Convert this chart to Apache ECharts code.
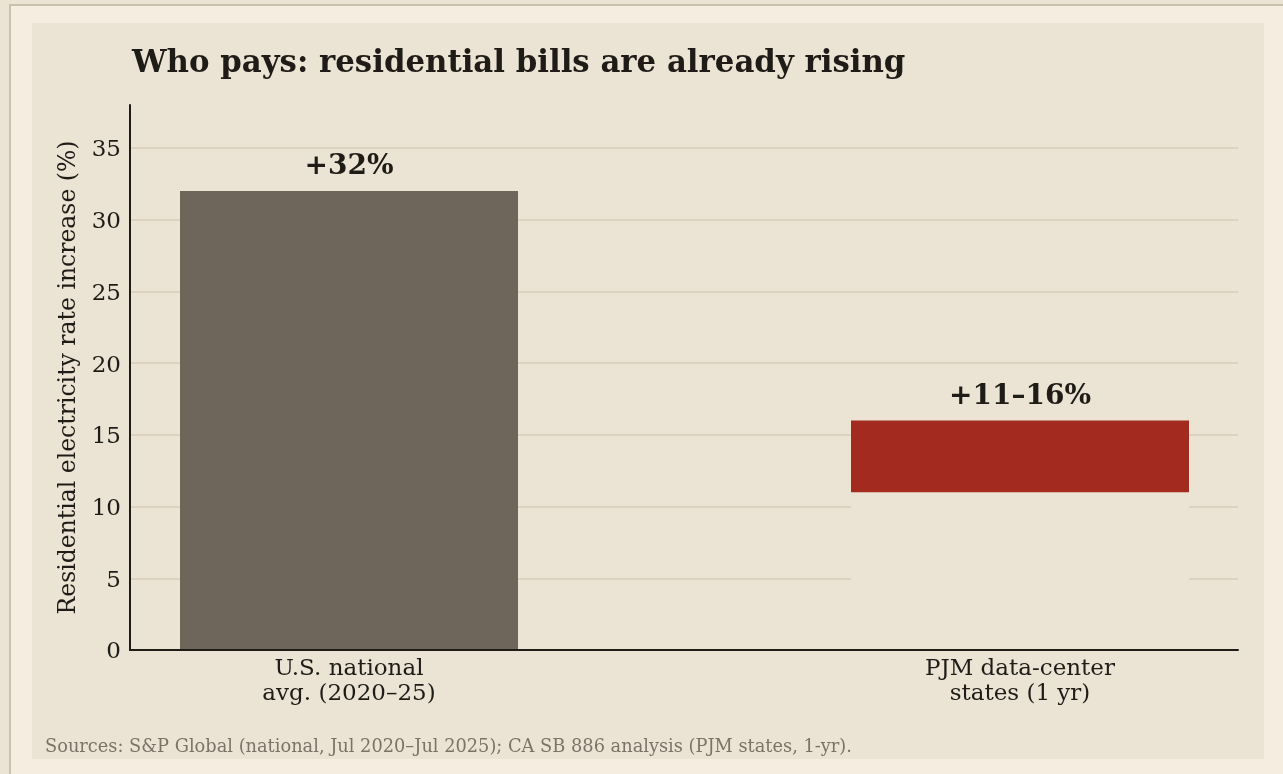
<!DOCTYPE html>
<html>
<head>
<meta charset="utf-8">
<script src="https://cdn.jsdelivr.net/npm/echarts@6/dist/echarts.min.js"></script>
<style>
  html, body { margin: 0; padding: 0; width: 1283px; height: 774px; overflow: hidden; background: #ebe4d4; }
  #frame { position: absolute; left: 9px; top: 4px; width: 1400px; height: 900px; background: #f5eee0; border: 2px solid #cbc0ab; }
  #chart { position: absolute; left: 32px; top: 23px; width: 1232px; height: 736px; background: #ebe4d4; }
</style>
</head>
<body>
<div id="frame"></div>
<div id="chart"></div>
<script>
// Categories and values
const categories = ['U.S. national\navg. (2020–25)', 'PJM data-center\nstates (1 yr)'];
const nationalIncrease = [32];          // % rise, Jul 2020–Jul 2025
const pjmRange = [11, 16];              // % rise range, one year
const barLabels = ['+32%', '+11–16%'];
const yTicks = [0, 5, 10, 15, 20, 25, 30, 35];

const PANEL = '#ebe4d4';
const INK = '#1f1c18';
const SERIF = '"DejaVu Serif", serif';
const BAR_W = 338;

const chart = echarts.init(document.getElementById('chart'), null, { renderer: 'canvas' });

chart.setOption({
  backgroundColor: PANEL,
  animation: false,
  title: {
    text: 'Who pays: residential bills are already rising',
    left: 95,
    top: 20,
    textStyle: { fontFamily: SERIF, fontWeight: 'bold', fontSize: 30.8, color: INK }
  },
  grid: { left: 98, right: 26, top: 82, bottom: 109, containLabel: false },
  xAxis: {
    type: 'value',
    z: 6,
    // category slots sit at 0 and 1, padded on both sides
    min: -0.32638,
    max: 1.32489,
    axisLine: { show: true, onZero: false, lineStyle: { color: INK, width: 2 } },
    axisTick: { show: false },
    splitLine: { show: false },
    axisLabel: {
      customValues: [0, 1],
      formatter: v => categories[Math.round(v)],
      fontFamily: SERIF, fontSize: 23, color: INK, lineHeight: 25, margin: 7
    }
  },
  yAxis: {
    type: 'value',
    min: 0,
    max: 38,
    interval: 5,
    name: 'Residential electricity rate increase (%)',
    nameLocation: 'middle',
    nameRotate: 90,
    nameGap: 49,
    nameTextStyle: { fontFamily: SERIF, fontSize: 23.5, color: INK },
    axisLine: { show: true, onZero: false, lineStyle: { color: INK, width: 2 } },
    axisTick: { show: false },
    axisLabel: {
      showMaxLabel: false,
      formatter: v => (yTicks.indexOf(v) >= 0 ? '{t|' + v + '}' : ''),
      margin: 9,
      rich: {
        t: { fontFamily: SERIF, fontSize: 23, color: INK, padding: [5, 0, 0, 0] }
      }
    },
    splitLine: { show: true, showMaxLine: false, lineStyle: { color: '#d6cdbb', width: 1.5 } }
  },
  series: [
    {
      name: 'national',
      type: 'bar',
      barWidth: BAR_W,
      barGap: '-100%',
      z: 3,
      data: [[0, nationalIncrease[0]]],
      itemStyle: { color: '#6e665a' },
      label: {
        show: true, position: 'top', distance: 10,
        formatter: () => barLabels[0],
        fontFamily: SERIF, fontWeight: 'bold', fontSize: 28, color: INK
      }
    },
    {
      // full PJM range bar, up to the upper estimate
      name: 'pjm',
      type: 'bar',
      barWidth: BAR_W,
      barGap: '-100%',
      z: 3,
      data: [[1, pjmRange[1]]],
      itemStyle: { color: '#a22a1f' },
      label: {
        show: true, position: 'top', distance: 10,
        formatter: () => barLabels[1],
        fontFamily: SERIF, fontWeight: 'bold', fontSize: 28, color: INK
      }
    },
    {
      // masks the part below the lower estimate so the bar floats
      name: 'pjmBase',
      type: 'bar',
      barWidth: BAR_W,
      barGap: '-100%',
      z: 4,
      data: [[1, pjmRange[0]]],
      itemStyle: { color: PANEL },
      emphasis: { disabled: true }
    }
  ],
  graphic: [
    {
      type: 'text',
      left: 13,
      top: 715,
      style: {
        text: 'Sources: S&P Global (national, Jul 2020–Jul 2025); CA SB 886 analysis (PJM states, 1-yr).',
        font: '17.8px "DejaVu Serif", serif',
        fill: '#7b7368'
      }
    }
  ]
});
</script>
</body>
</html>
